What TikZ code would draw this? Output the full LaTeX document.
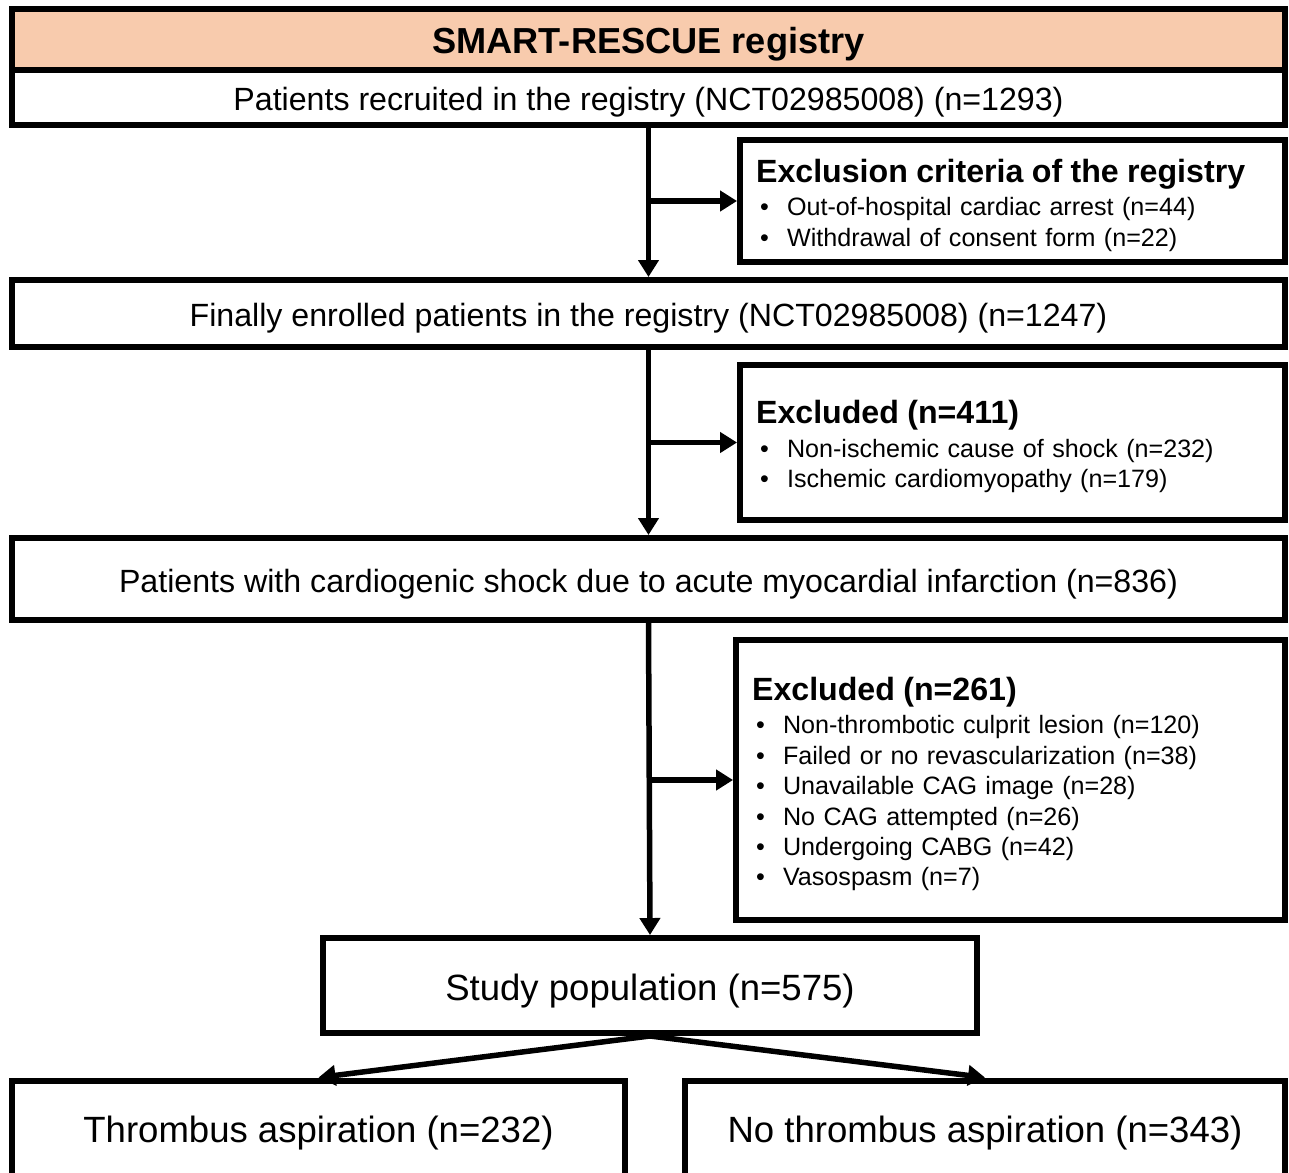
\documentclass[tikz,border=0pt]{standalone}
\usepackage{fontspec}
\setmainfont{Liberation Sans}
\usetikzlibrary{arrows.meta}
\definecolor{headfill}{HTML}{F8CBAD}
\newcommand{\exhead}[1]{{\fontsize{18.3}{22}\selectfont\bfseries\rule{0pt}{0.63cm}#1}}
\newcommand{\exitem}[1]{\makebox[0.62cm][l]{\hspace{0.08cm}\textbullet}#1}

\begin{document}
\begin{tikzpicture}[x=0.02cm,y=-0.02cm,
  box/.style={draw=black,line width=0.12cm,inner sep=0pt,text depth=0pt,text height=0.52cm,font=\fontsize{18.3}{22}\selectfont},
  bigbox/.style={box,text height=0.58cm,font=\fontsize{20.8}{25}\selectfont},
  exbox/.style={draw=black,line width=0.12cm,align=left,inner xsep=0.32cm,inner ysep=0pt,font=\fontsize{14.3}{17.3}\selectfont},
  arr/.style={line width=0.11cm,-{Triangle[length=0.34cm,width=0.4cm]}}]
\clip (0,0) rectangle (1289,1173);

\node[box,fill=headfill,minimum width=25.46cm,minimum height=1.22cm,text height=0.58cm,font=\fontsize{20.6}{24}\selectfont\bfseries] (head) at (648.5,39.5) {SMART-RESCUE registry};
\node[box,minimum width=25.46cm,minimum height=1.1cm] (recruited) at (648.5,97.5) {Patients recruited in the registry (NCT02985008) (n=1293)};
\node[exbox,text width=10.26cm,minimum height=2.44cm] (excl1) at (1012.5,201) {\exhead{Exclusion criteria of the registry}\\[0.06cm]
  \exitem{Out-of-hospital cardiac arrest (n=44)}\\
  \exitem{Withdrawal of consent form (n=22)}};
\node[box,minimum width=25.46cm,minimum height=1.34cm] (enrolled) at (648.5,313.5) {Finally enrolled patients in the registry (NCT02985008) (n=1247)};
\node[exbox,text width=10.26cm,minimum height=3.1cm] (excl2) at (1012.5,442.5) {\exhead{Excluded (n=411)}\\[0.06cm]
  \exitem{Non-ischemic cause of shock (n=232)}\\
  \exitem{Ischemic cardiomyopathy (n=179)}};
\node[box,minimum width=25.46cm,minimum height=1.64cm] (shock) at (648.5,579) {Patients with cardiogenic shock due to acute myocardial infarction (n=836)};
\node[exbox,text width=10.34cm,minimum height=5.6cm] (excl3) at (1010.5,780) {\exhead{Excluded (n=261)}\\[0.06cm]
  \exitem{Non-thrombotic culprit lesion (n=120)}\\
  \exitem{Failed or no revascularization (n=38)}\\
  \exitem{Unavailable CAG image (n=28)}\\
  \exitem{No CAG attempted (n=26)}\\
  \exitem{Undergoing CABG (n=42)}\\
  \exitem{Vasospasm (n=7)}};
\node[bigbox,minimum width=13.08cm,minimum height=1.9cm] (study) at (650,985.5) {Study population (n=575)};
\node[bigbox,minimum width=12.26cm,minimum height=1.9cm] (asp) at (318.5,1128) {Thrombus aspiration (n=232)};
\node[bigbox,minimum width=12cm,minimum height=1.9cm] (noasp) at (985,1128) {No thrombus aspiration (n=343)};

\draw[arr] (recruited.south) -- (enrolled.north);
\draw[arr] (recruited.south |- excl1.west) -- (excl1.west);
\draw[arr] (enrolled.south) -- (shock.north);
\draw[arr] (enrolled.south |- excl2.west) -- (excl2.west);
\draw[arr] (shock.south) -- (study.north);
\draw[arr] (shock.south |- excl3.west) -- (excl3.west);
\draw[arr] (study.south) -- (asp.north);
\draw[arr] (study.south) -- (noasp.north);
\end{tikzpicture}
\end{document}
